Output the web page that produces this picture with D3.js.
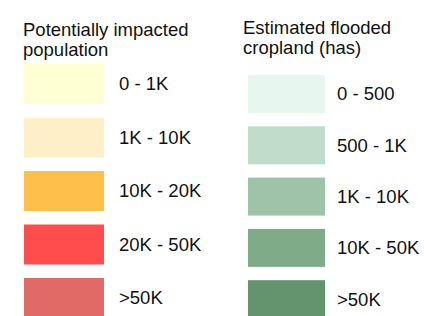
<!DOCTYPE html>
<html>
<head>
<meta charset="utf-8">
<script src="https://cdn.jsdelivr.net/npm/d3@7"></script>
<style>
  html, body { margin: 0; padding: 0; background: #fff; }
  svg { display: block; }
  text { font-family: "Liberation Sans", Arial, sans-serif; fill: #111; }
</style>
</head>
<body>
<svg id="chart" width="446" height="316"></svg>
<script>
const popTitle = ["Potentially impacted", "population"];
const popLabels = ["0 - 1K", "1K - 10K", "10K - 20K", "20K - 50K", ">50K"];
const popColors = ["#ffffd4", "#feefc9", "#fec04b", "#ff4c4c", "#e16a67"];

const cropTitle = ["Estimated flooded", "cropland (has)"];
const cropLabels = ["0 - 500", "500 - 1K", "1K - 10K", "10K - 50K", ">50K"];
const cropColors = ["#e8f6f0", "#c1dccb", "#9fc3a8", "#7fab89", "#64946e"];

const svg = d3.select("#chart");

function legend(g, cfg) {
  const color = d3.scaleOrdinal().domain(cfg.labels).range(cfg.colors);
  const y = d3.scaleBand().domain(cfg.labels).range(cfg.yRange).paddingInner(cfg.pad).paddingOuter(0);

  g.selectAll("text.title").data(cfg.title).join("text")
    .attr("class", "title")
    .attr("x", cfg.titleX)
    .attr("y", (d, i) => cfg.titleY + i * cfg.lineH)
    .attr("font-size", cfg.titleSize)
    .text(d => d);

  g.selectAll("rect").data(cfg.labels).join("rect")
    .attr("x", cfg.swX)
    .attr("y", d => y(d))
    .attr("width", cfg.swW)
    .attr("height", y.bandwidth())
    .attr("fill", d => color(d));

  g.selectAll("text.lab").data(cfg.labels).join("text")
    .attr("class", "lab")
    .attr("x", cfg.labX)
    .attr("y", d => y(d) + y.bandwidth() / 2)
    .attr("dy", "0.35em")
    .attr("font-size", cfg.labSize)
    .text(d => d);
}

legend(svg.append("g"), {
  title: popTitle, labels: popLabels, colors: popColors,
  titleX: 23, titleY: 36, lineH: 20, titleSize: 18.5,
  yRange: [64, 318], pad: 0.2523, swX: 24, swW: 80,
  labX: 119, labSize: 18.5
});

legend(svg.append("g"), {
  title: cropTitle, labels: cropLabels, colors: cropColors,
  titleX: 243, titleY: 34, lineH: 20, titleSize: 18.5,
  yRange: [75, 318.2], pad: 0.259, swX: 248, swW: 77,
  labX: 337, labSize: 18.5
});
</script>
</body>
</html>
